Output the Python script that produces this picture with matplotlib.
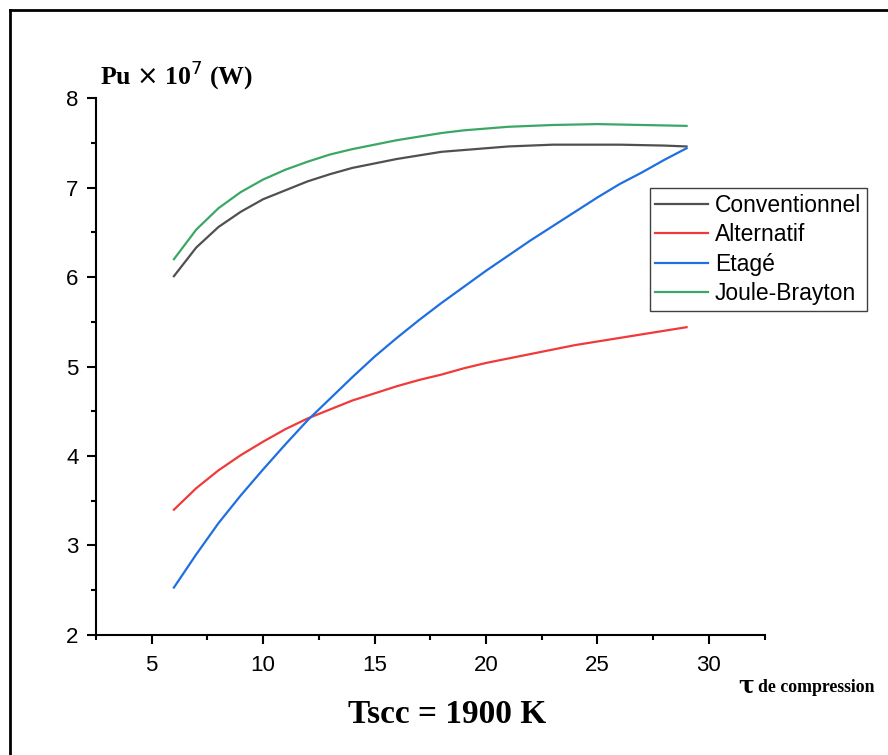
import numpy as np
import matplotlib.pyplot as plt
from matplotlib.ticker import MultipleLocator

# Data
tau = [6, 7, 8, 9, 10, 11, 12, 13, 14, 15, 16, 17, 18, 19, 20, 21, 22, 23, 24, 25, 26, 27, 28, 29]
conventionnel = [6.01, 6.33, 6.56, 6.73, 6.87, 6.97, 7.07, 7.15, 7.22, 7.27, 7.32, 7.36,
                 7.40, 7.42, 7.44, 7.46, 7.47, 7.48, 7.48, 7.48, 7.48, 7.475, 7.47, 7.46]
alternatif = [3.40, 3.64, 3.84, 4.01, 4.16, 4.30, 4.42, 4.52, 4.62, 4.70, 4.78, 4.85,
              4.91, 4.98, 5.04, 5.09, 5.14, 5.19, 5.24, 5.28, 5.32, 5.36, 5.40, 5.44]
etage = [2.53, 2.90, 3.25, 3.56, 3.85, 4.13, 4.40, 4.64, 4.88, 5.11, 5.32, 5.52,
         5.71, 5.89, 6.07, 6.24, 6.41, 6.57, 6.73, 6.89, 7.04, 7.17, 7.31, 7.44]
joule_brayton = [6.20, 6.53, 6.77, 6.95, 7.09, 7.20, 7.29, 7.37, 7.43, 7.48, 7.53, 7.57,
                 7.61, 7.64, 7.66, 7.68, 7.69, 7.70, 7.705, 7.71, 7.705, 7.70, 7.695, 7.69]

labels = ['Conventionnel', 'Alternatif', 'Etagé', 'Joule-Brayton']
colors = ['#505050', '#f03a3a', '#1f6fe0', '#3aa864']

fig = plt.figure(figsize=(8.88, 7.55), dpi=100)
ax = fig.add_axes([0.108, 0.159, 0.753, 0.711])

for ys, lab, c in zip([conventionnel, alternatif, etage, joule_brayton], labels, colors):
    ax.plot(tau, ys, color=c, lw=1.6, label=lab)

ax.set_xlim(2.5, 32.5)
ax.set_ylim(2, 8)
ax.xaxis.set_major_locator(MultipleLocator(5))
ax.xaxis.set_minor_locator(MultipleLocator(2.5))
ax.yaxis.set_major_locator(MultipleLocator(1))
ax.yaxis.set_minor_locator(MultipleLocator(0.5))
ax.spines['top'].set_visible(False)
ax.spines['right'].set_visible(False)
for s in ['left', 'bottom']:
    ax.spines[s].set_linewidth(1.5)
ax.tick_params(which='major', direction='out', length=6.5, width=1.5, labelsize=16)
ax.tick_params(which='minor', direction='out', length=3.5, width=1.5)
ax.tick_params(axis='x', which='major', pad=8)
ax.tick_params(axis='y', which='major', pad=6)
for t in ax.get_xticklabels() + ax.get_yticklabels():
    t.set_family('Liberation Sans')

leg = ax.legend(loc='upper left', bbox_to_anchor=(0.828, 0.832), fancybox=False,
                edgecolor='#404040', framealpha=1, handlelength=2.3, handletextpad=0.3,
                borderpad=0.25, labelspacing=0.28, borderaxespad=0,
                prop={'family': 'Liberation Sans', 'size': 16.5})
leg.get_frame().set_linewidth(1.0)

fig.text(0.113, 0.888, r'Pu $\times$ 10$^{7}$ (W)', fontsize=18.5, fontweight='bold',
         family='Liberation Serif')
fig.text(0.504, 0.042, 'Tscc = 1900 K', fontsize=24, fontweight='bold',
         family='Liberation Serif', ha='center')
fig.text(0.831, 0.083, 'τ', fontsize=17, fontweight='bold', family='DejaVu Serif')
fig.text(0.854, 0.083, 'de compression', fontsize=12.8, fontweight='bold',
         family='Liberation Serif')

# outer frame (left and top only)
fig.add_artist(plt.Line2D([10 / 888, 10 / 888], [0, 1 - 10 / 755], color='black', lw=2,
                          transform=fig.transFigure))
fig.add_artist(plt.Line2D([10 / 888, 1], [1 - 10 / 755, 1 - 10 / 755], color='black', lw=2,
                          transform=fig.transFigure))

fig.savefig('out.png', dpi=100)
